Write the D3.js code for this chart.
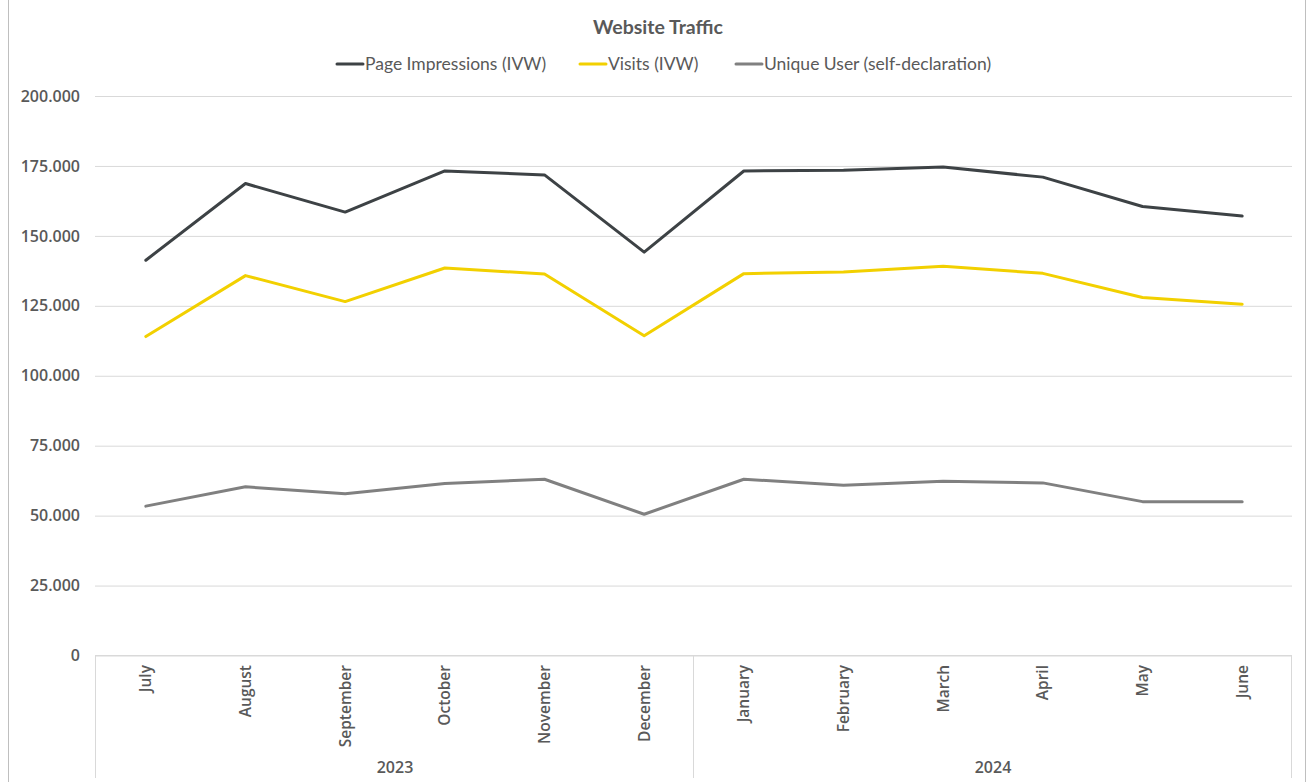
<!DOCTYPE html>
<html>
<head>
<meta charset="utf-8">
<script src="https://cdn.jsdelivr.net/npm/d3@7"></script>
<style>
  body { margin: 0; background: #fff; }
  svg { display: block; font-family: Lato, 'Open Sans', sans-serif; }
</style>
</head>
<body>
<div id="chart"></div>
<script>
const months = ['July', 'August', 'September', 'October', 'November', 'December',
  'January', 'February', 'March', 'April', 'May', 'June'];
const years = [{ label: '2023', first: 'July', last: 'December' },
  { label: '2024', first: 'January', last: 'June' }];
const pageImpressions = [141300, 168700, 158500, 173200, 171800, 144200,
  173200, 173500, 174600, 171000, 160500, 157100];
const visits = [114000, 135800, 126500, 138500, 136400, 114300,
  136500, 137100, 139100, 136600, 128000, 125600];
const uniqueUsers = [53400, 60300, 57800, 61500, 63000, 50500,
  63000, 60900, 62300, 61700, 55000, 55000];
const yTicks = [0, 25000, 50000, 75000, 100000, 125000, 150000, 175000, 200000];

const series = [
  { name: 'Page Impressions (IVW)', values: pageImpressions, color: '#3d4245' },
  { name: 'Visits (IVW)', values: visits, color: '#f2d000' },
  { name: 'Unique User (self-declaration)', values: uniqueUsers, color: '#808080' }
];

const W = 1306, H = 782;
const plot = { left: 96, right: 1292, top: 96, bottom: 655.5 };
const textColor = '#595959';
const axisFont = "'Open Sans', sans-serif";

const svg = d3.select('#chart').append('svg').attr('width', W).attr('height', H);

// chart border
svg.append('rect')
  .attr('x', 8.5).attr('y', -1).attr('width', W - 9).attr('height', H + 2)
  .attr('fill', 'none').attr('stroke', '#bfbfbf');

const x = d3.scaleBand().domain(months).range([plot.left, plot.right]).padding(0);
const cx = (d) => x(d) + x.bandwidth() / 2;
const y = d3.scaleLinear().domain([0, 200000]).range([plot.bottom, plot.top]);

// gridlines + y labels
const yAxis = svg.append('g').attr('transform', `translate(${plot.left - 1},0)`)
  .call(d3.axisLeft(y).tickValues(yTicks).tickSize(0).tickPadding(15)
    .tickFormat((d) => d === 0 ? '0' : d3.format(',')(d).replace(/,/g, '.')))
  .call((g) => g.select('.domain').remove());
yAxis.selectAll('.tick line').clone()
  .attr('x2', plot.right - plot.left + 1)
  .attr('stroke', '#d9d9d9').attr('stroke-width', 1);
yAxis.selectAll('.tick text')
  .attr('fill', textColor).attr('font-size', 16).attr('font-weight', 600)
  .attr('font-family', axisFont);

// category axis: month labels, separators, year labels
const axisG = svg.append('g');
axisG.append('line')
  .attr('x1', plot.left - 1).attr('x2', plot.right).attr('y1', plot.bottom).attr('y2', plot.bottom)
  .attr('stroke', '#d9d9d9');
const sepX = [x(years[0].first), x(years[1].first), x(years[1].last) + x.bandwidth()];
axisG.selectAll('line.sep').data(sepX).join('line').attr('class', 'sep')
  .attr('x1', (d) => d - 0.5).attr('x2', (d) => d - 0.5)
  .attr('y1', plot.bottom).attr('y2', 778)
  .attr('stroke', '#d9d9d9');

axisG.selectAll('text.month').data(months).join('text').attr('class', 'month')
  .attr('transform', (d) => `translate(${cx(d) + 5.5},665) rotate(-90)`)
  .attr('text-anchor', 'end')
  .attr('fill', textColor).attr('font-size', 15.5).attr('font-weight', 600)
  .attr('font-family', axisFont)
  .text((d) => d);

axisG.selectAll('text.year').data(years).join('text').attr('class', 'year')
  .attr('x', (d) => (x(d.first) + x(d.last) + x.bandwidth()) / 2)
  .attr('y', 773)
  .attr('text-anchor', 'middle')
  .attr('fill', textColor).attr('font-size', 16).attr('font-weight', 600)
  .attr('font-family', axisFont)
  .text((d) => d.label);

// lines
const line = d3.line().x((d, i) => cx(months[i])).y((d) => y(d));
svg.append('g').selectAll('path').data(series).join('path')
  .attr('d', (d) => line(d.values))
  .attr('fill', 'none')
  .attr('stroke', (d) => d.color)
  .attr('stroke-width', 3)
  .attr('stroke-linejoin', 'round')
  .attr('stroke-linecap', 'round');

// title
svg.append('text')
  .attr('x', 658).attr('y', 34)
  .attr('text-anchor', 'middle')
  .attr('fill', textColor).attr('font-size', 19.5).attr('font-weight', 'bold')
  .text('Website Traffic');

// legend
const legendX = [336, 579, 735];
const legend = svg.append('g').selectAll('g').data(series).join('g')
  .attr('transform', (d, i) => `translate(${legendX[i]},64)`);
legend.append('line')
  .attr('x1', 1).attr('x2', 27)
  .attr('stroke', (d) => d.color).attr('stroke-width', 3).attr('stroke-linecap', 'round');
legend.append('text')
  .attr('x', 29).attr('y', 6)
  .attr('fill', textColor).attr('font-size', 17.5)
  .text((d) => d.name);
</script>
</body>
</html>
